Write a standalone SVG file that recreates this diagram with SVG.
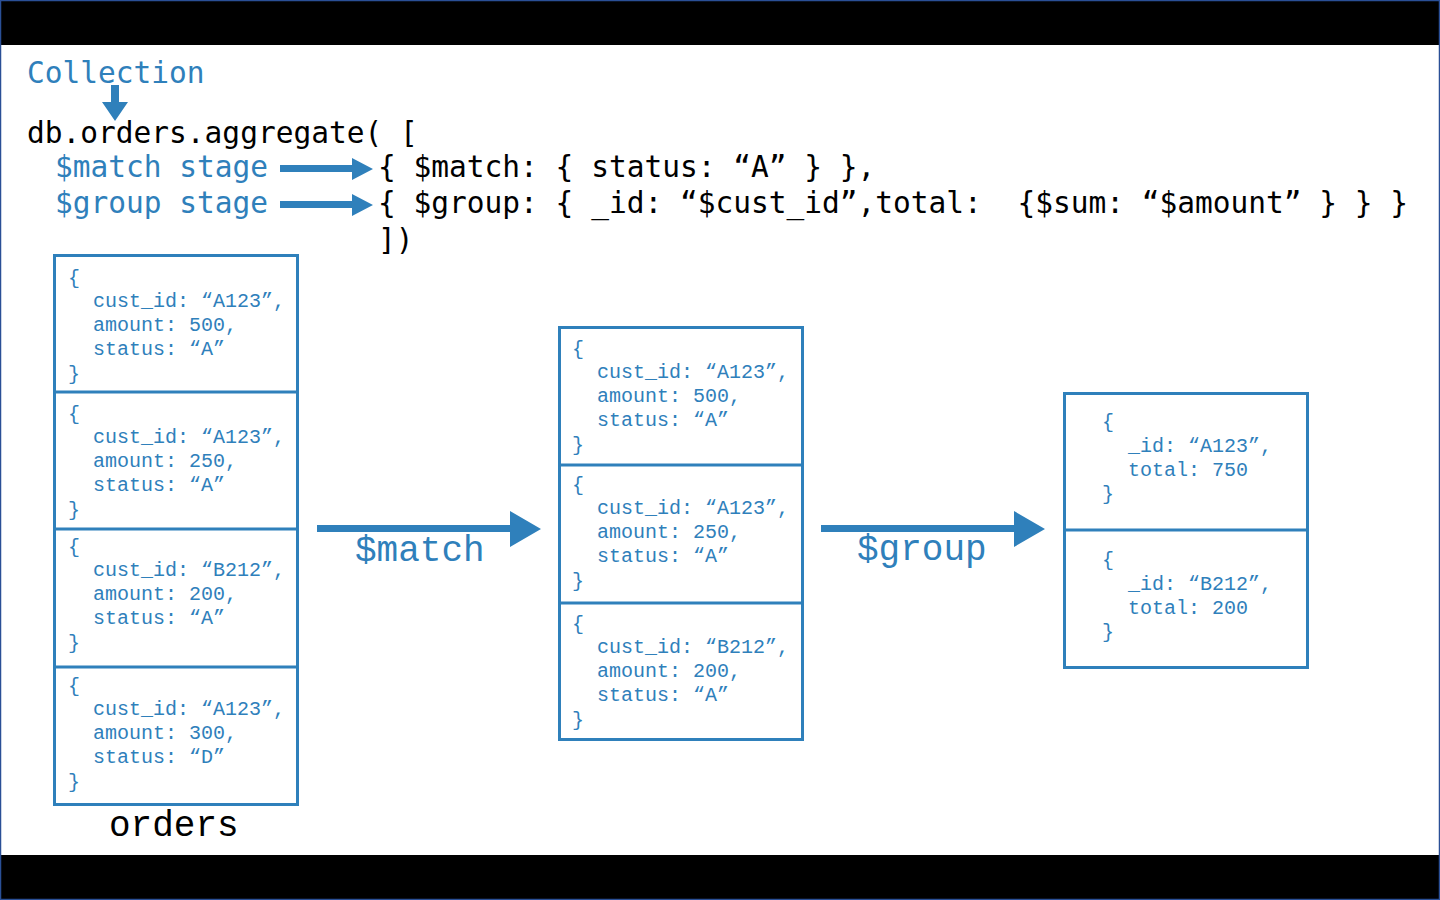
<svg xmlns="http://www.w3.org/2000/svg" width="1440" height="900" viewBox="0 0 1440 900">
<style>
.hdr{font-family:"DejaVu Sans Mono","Liberation Mono",monospace;font-size:29.5px;white-space:pre}
.blue{fill:#2f80bb}
.blk{fill:#000}
.doc{font-family:"Liberation Mono","Courier New",monospace;font-size:20px;fill:#2f80bb}
.big{font-family:"Liberation Mono","Courier New",monospace;font-size:36px}
.box{fill:#fff;stroke:#2f80bb;stroke-width:3}
.div{stroke:#2f80bb;stroke-width:3}
.arr{fill:#2f80bb}
</style>
<rect x="0" y="0" width="1440" height="900" fill="#fff"/>
<rect x="0" y="0" width="1440" height="45" fill="#000"/>
<rect x="0" y="855" width="1440" height="45" fill="#000"/>
<rect x="0.5" y="0.5" width="1439" height="899" fill="none" stroke="#2a4f96" stroke-width="1.5"/>

<g id="header">
<text class="hdr blue" x="27" y="83">Collection</text>
<text class="hdr blk" x="27" y="143">db.orders.aggregate( [</text>
<text class="hdr blue" x="55" y="177">$match stage</text>
<text class="hdr blk" x="378" y="177">{ $match: { status: “A” } },</text>
<text class="hdr blue" x="55" y="213">$group stage</text>
<text class="hdr blk" x="378" y="213" xml:space="preserve">{ $group: { _id: “$cust_id”,total:  {$sum: “$amount” } } }</text>
<text class="hdr blk" x="378" y="250">])</text>
</g>

<g id="connectors">
<path class="arr" d="M111 85 H119 V102 H128 L115 121 L102 102 H111 Z"/>
<path class="arr" d="M280 165 H352 V158 L373 169 L352 180 V172 H280 Z"/>
<path class="arr" d="M280 201 H352 V194 L373 205 L352 216 V208 H280 Z"/>
<path class="arr" d="M317 525 H510 V511 L541 529 L510 547 V532 H317 Z"/>
<path class="arr" d="M821 525 H1014 V511 L1045 529 L1014 547 V532 H821 Z"/>
<text class="big blue" x="355" y="561">$match</text>
<text class="big blue" x="857" y="560">$group</text>
</g>

<g id="orders">
<rect class="box" x="54.5" y="255.5" width="243" height="549"/>
<line class="div" x1="54.5" y1="392" x2="297.5" y2="392"/>
<line class="div" x1="54.5" y1="529" x2="297.5" y2="529"/>
<line class="div" x1="54.5" y1="667" x2="297.5" y2="667"/>
<text class="doc"><tspan x="68" y="284">{</tspan><tspan x="93" y="307">cust_id: “A123”,</tspan><tspan x="93" y="331">amount: 500,</tspan><tspan x="93" y="355">status: “A”</tspan><tspan x="68" y="380">}</tspan></text>
<text class="doc"><tspan x="68" y="420">{</tspan><tspan x="93" y="443">cust_id: “A123”,</tspan><tspan x="93" y="467">amount: 250,</tspan><tspan x="93" y="491">status: “A”</tspan><tspan x="68" y="516">}</tspan></text>
<text class="doc"><tspan x="68" y="553">{</tspan><tspan x="93" y="576">cust_id: “B212”,</tspan><tspan x="93" y="600">amount: 200,</tspan><tspan x="93" y="624">status: “A”</tspan><tspan x="68" y="649">}</tspan></text>
<text class="doc"><tspan x="68" y="692">{</tspan><tspan x="93" y="715">cust_id: “A123”,</tspan><tspan x="93" y="739">amount: 300,</tspan><tspan x="93" y="763">status: “D”</tspan><tspan x="68" y="788">}</tspan></text>
<text class="big blk" x="109" y="836">orders</text>
</g>

<g id="matched">
<rect class="box" x="559.5" y="327.5" width="243" height="412"/>
<line class="div" x1="559.5" y1="465" x2="802.5" y2="465"/>
<line class="div" x1="559.5" y1="603" x2="802.5" y2="603"/>
<text class="doc"><tspan x="572" y="355">{</tspan><tspan x="597" y="378">cust_id: “A123”,</tspan><tspan x="597" y="402">amount: 500,</tspan><tspan x="597" y="426">status: “A”</tspan><tspan x="572" y="451">}</tspan></text>
<text class="doc"><tspan x="572" y="491">{</tspan><tspan x="597" y="514">cust_id: “A123”,</tspan><tspan x="597" y="538">amount: 250,</tspan><tspan x="597" y="562">status: “A”</tspan><tspan x="572" y="587">}</tspan></text>
<text class="doc"><tspan x="572" y="630">{</tspan><tspan x="597" y="653">cust_id: “B212”,</tspan><tspan x="597" y="677">amount: 200,</tspan><tspan x="597" y="701">status: “A”</tspan><tspan x="572" y="726">}</tspan></text>
</g>

<g id="grouped">
<rect class="box" x="1064.5" y="393.5" width="243" height="274"/>
<line class="div" x1="1064.5" y1="530" x2="1307.5" y2="530"/>
<text class="doc"><tspan x="1102" y="428">{</tspan><tspan x="1128" y="452">_id: “A123”,</tspan><tspan x="1128" y="476">total: 750</tspan><tspan x="1102" y="500">}</tspan></text>
<text class="doc"><tspan x="1102" y="566">{</tspan><tspan x="1128" y="590">_id: “B212”,</tspan><tspan x="1128" y="614">total: 200</tspan><tspan x="1102" y="638">}</tspan></text>
</g>
</svg>
